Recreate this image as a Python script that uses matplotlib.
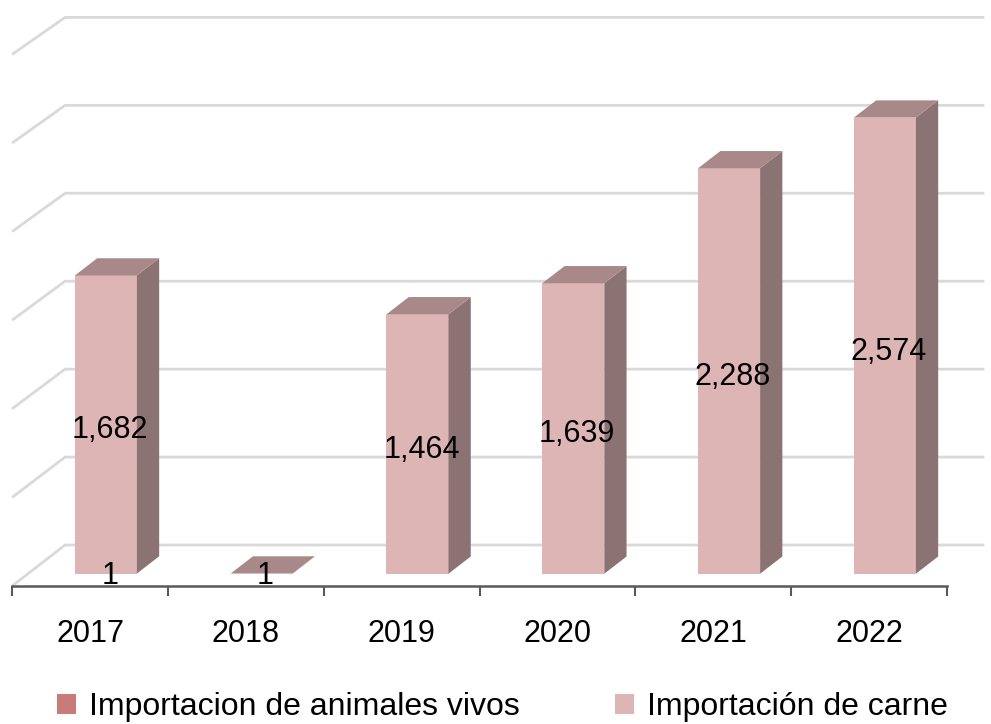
import matplotlib
matplotlib.use('Agg')
import matplotlib.pyplot as plt
from matplotlib.patches import Polygon, Patch
from matplotlib import font_manager

# ---- data ----
years = ['2017', '2018', '2019', '2020', '2021', '2022']
animales = [1, 1, 0, 0, 0, 0]
carne = [1682, 0, 1464, 1639, 2288, 2574]
animales_labels = ['1', '1', '', '', '', '']
carne_labels = ['1,682', '', '1,464', '1,639', '2,288', '2,574']
grid_values = [0, 500, 1000, 1500, 2000, 2500, 3000]
series_names = ['Importacion de animales vivos', 'Importación de carne']

# ---- style ----
names = {f.name for f in font_manager.fontManager.ttflist}
FAM = 'Liberation Sans Narrow' if 'Liberation Sans Narrow' in names else 'Liberation Sans'
plt.rcParams['font.family'] = [FAM, 'DejaVu Sans']

C_ANIM = '#C97B7B'
C_FRONT = '#DDB5B5'
C_TOP = '#A88888'
C_SIDE = '#8C7373'
C_GRID = '#D9D9D9'
C_AXIS = '#595959'
FS = 22

W, H = 991, 724
fig = plt.figure(figsize=(W / 100, H / 100), dpi=100)
ax = fig.add_axes([0, 0, 1, 1])

PX_CAT = 155.8      # pixels per category
PX_VAL = 0.1772     # pixels per value unit
X0 = 90             # pixel of category 0 on front axis
Y0 = 586            # pixel row of value 0 on front axis
ax.set_xlim(-X0 / PX_CAT, (W - X0) / PX_CAT)
ax.set_ylim(-(H - Y0) / PX_VAL, Y0 / PX_VAL)

# oblique depth projection
DX = 53 / PX_CAT
DY = 41 / PX_VAL
BACK_SCALE = 0.9925  # slight perspective shrink of back wall
LABEL_DROP = 6 / PX_VAL


def P(x, v, z):
    return (x + z * DX, v * (1 - z * (1 - BACK_SCALE)) + z * DY)


# back wall + left wall grid
for g in grid_values:
    pts = [P(-0.5, g, 0), P(-0.5, g, 1), P(5.4, g, 1)]
    ax.plot([p[0] for p in pts], [p[1] for p in pts],
            color=C_GRID, lw=2, zorder=1, solid_capstyle='butt')


def Q(x, v, z):
    return (x + z * DX, v + z * DY)


# bars
Z1, Z2 = 0.30, 0.72
HW = 0.199
for i in range(len(years)):
    base = animales[i]
    top = base + carne[i]
    if animales[i] > 0:
        ax.add_patch(Polygon([Q(i - HW, 0, Z1), Q(i + HW, 0, Z1),
                              Q(i + HW, base, Z1), Q(i - HW, base, Z1)],
                             closed=True, facecolor=C_ANIM, edgecolor='none', zorder=3))
    ax.add_patch(Polygon([Q(i - HW, base, Z1), Q(i + HW, base, Z1),
                          Q(i + HW, top, Z1), Q(i - HW, top, Z1)],
                         closed=True, facecolor=C_FRONT, edgecolor='none', zorder=3))
    ax.add_patch(Polygon([Q(i + HW, base, Z1), Q(i + HW, top, Z1),
                          Q(i + HW, top, Z2), Q(i + HW, base, Z2)],
                         closed=True, facecolor=C_SIDE, edgecolor='none', zorder=3))
    ax.add_patch(Polygon([Q(i - HW, top, Z1), Q(i + HW, top, Z1),
                          Q(i + HW, top, Z2), Q(i - HW, top, Z2)],
                         closed=True, facecolor=C_TOP, edgecolor='none', zorder=3))
    lx = i + Z1 * DX + 0.025
    if carne_labels[i]:
        ax.text(lx, base + carne[i] / 2 + Z1 * DY - LABEL_DROP, carne_labels[i],
                ha='center', va='center', fontsize=FS, color='black', zorder=5)
    if animales_labels[i]:
        ax.text(lx, animales[i] / 2 + Z1 * DY - 15, animales_labels[i],
                ha='center', va='center', fontsize=FS, color='black', zorder=5)

# front axis
for s in ['left', 'right', 'top']:
    ax.spines[s].set_visible(False)
ax.spines['bottom'].set_position(('data', 0))
ax.spines['bottom'].set_bounds(-0.5, len(years) - 0.5)
ax.spines['bottom'].set_color(C_AXIS)
ax.spines['bottom'].set_linewidth(1.8)
ax.spines['bottom'].set_zorder(4)
ax.set_yticks([])
ax.set_xticks(range(len(years)))
ax.set_xticklabels(years, fontsize=FS)
ax.set_xticks([i - 0.5 for i in range(len(years) + 1)], minor=True)
ax.tick_params(axis='x', which='major', length=0, pad=24)
ax.tick_params(axis='x', which='minor', length=7, width=1.5, color=C_AXIS, direction='out')

# legend
handles = [Patch(facecolor=C_ANIM, label=series_names[0]),
           Patch(facecolor=C_FRONT, label=series_names[1])]
fig.legend(handles=handles, loc='center', bbox_to_anchor=(0.507, 1 - 707 / H), ncol=2,
           frameon=False, fontsize=FS + 1, handlelength=0.58, handleheight=0.58,
           handletextpad=0.4, columnspacing=3.0, borderaxespad=0, borderpad=0)

fig.savefig('out.png', dpi=100)
